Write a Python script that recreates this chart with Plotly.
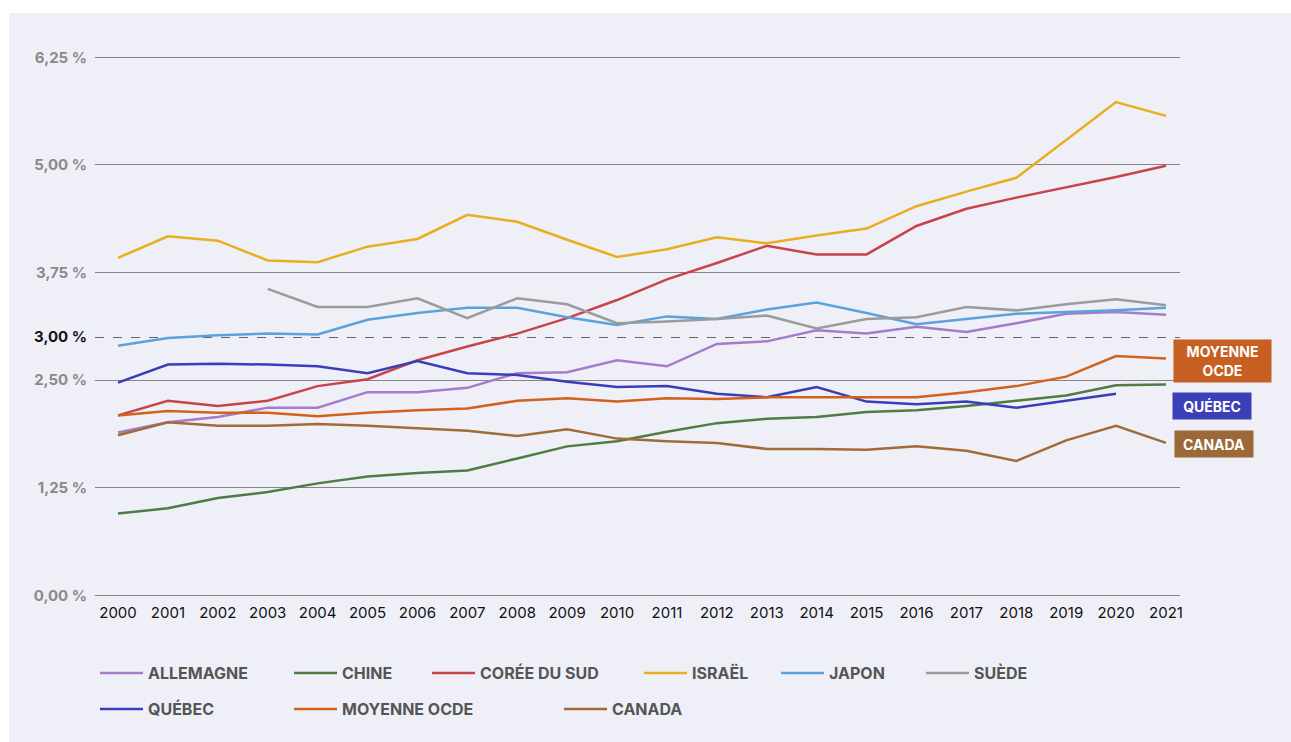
import plotly.graph_objects as go

years = list(range(2000, 2022))
year_labels = [str(y) for y in years]

allemagne = [1.89, 2.01, 2.07, 2.18, 2.18, 2.36, 2.36, 2.41, 2.58, 2.59, 2.73, 2.66, 2.92, 2.95, 3.08, 3.04, 3.12, 3.06, 3.16, 3.27, 3.29, 3.26]
chine = [0.95, 1.01, 1.13, 1.20, 1.30, 1.38, 1.42, 1.45, 1.59, 1.73, 1.79, 1.90, 2.00, 2.05, 2.07, 2.13, 2.15, 2.20, 2.26, 2.32, 2.44, 2.45]
coree = [2.09, 2.26, 2.20, 2.26, 2.43, 2.51, 2.73, 2.89, 3.04, 3.22, 3.43, 3.67, 3.86, 4.06, 3.96, 3.96, 4.29, 4.49, 4.62, 4.74, 4.86, 4.99]
israel = [3.92, 4.17, 4.12, 3.89, 3.87, 4.05, 4.14, 4.42, 4.34, 4.13, 3.93, 4.02, 4.16, 4.09, 4.18, 4.26, 4.52, 4.69, 4.85, 5.29, 5.73, 5.57]
japon = [2.90, 2.99, 3.02, 3.04, 3.03, 3.20, 3.28, 3.34, 3.34, 3.23, 3.14, 3.24, 3.21, 3.32, 3.40, 3.28, 3.15, 3.21, 3.27, 3.29, 3.31, 3.34]
suede = [None, None, None, 3.56, 3.35, 3.35, 3.45, 3.22, 3.45, 3.38, 3.16, 3.18, 3.21, 3.25, 3.10, 3.21, 3.23, 3.35, 3.31, 3.38, 3.44, 3.37]
quebec = [2.47, 2.68, 2.69, 2.68, 2.66, 2.58, 2.72, 2.58, 2.56, 2.48, 2.42, 2.43, 2.34, 2.30, 2.42, 2.25, 2.22, 2.25, 2.18, 2.26, 2.34, None]
ocde = [2.09, 2.14, 2.12, 2.12, 2.08, 2.12, 2.15, 2.17, 2.26, 2.29, 2.25, 2.29, 2.28, 2.30, 2.30, 2.30, 2.30, 2.36, 2.43, 2.54, 2.78, 2.75]
canada = [1.86, 2.01, 1.97, 1.97, 1.99, 1.97, 1.94, 1.91, 1.85, 1.93, 1.82, 1.79, 1.77, 1.70, 1.70, 1.69, 1.73, 1.68, 1.56, 1.80, 1.97, 1.77]

y_ticks = [0, 1.25, 2.5, 3.75, 5, 6.25]
y_tick_labels = ["0,00 %", "1,25 %", "2,50 %", "3,75 %", "5,00 %", "6,25 %"]
ref_tick = [3.0]
ref_tick_label = ["3,00 %"]

series = [
    ("ALLEMAGNE", allemagne, "#A57CC9"),
    ("CHINE", chine, "#4F7B45"),
    ("CORÉE DU SUD", coree, "#C8434A"),
    ("ISRAËL", israel, "#E9AE1D"),
    ("JAPON", japon, "#5AA2DE"),
    ("SUÈDE", suede, "#9B9B9B"),
    ("QUÉBEC", quebec, "#3A3DB9"),
    ("MOYENNE OCDE", ocde, "#D3611E"),
    ("CANADA", canada, "#A06B3A"),
]

W, H = 1291, 742
OFFX, OFFY = 9, 13
FONT = "Inter"
BG = "#EFF0F7"

# legend slot positions (page px of symbol start, row center)
legend_pos = [(100, 673), (294, 673), (432, 673), (644, 673), (781, 673), (926, 673),
              (100, 709), (294, 709), (564, 709)]

fig = go.Figure()
layout_legends = {}
for i, (name, vals, col) in enumerate(series):
    lg = "legend" if i == 0 else f"legend{i+1}"
    fig.add_trace(go.Scatter(x=years, y=vals, name=name, mode="lines",
                             line=dict(color=col, width=2.5), legend=lg,
                             connectgaps=False))
    px, py = legend_pos[i]
    layout_legends[lg] = dict(
        x=(px - OFFX - 5) / W, y=1 - (py - OFFY) / H, xref="container", yref="container",
        xanchor="left", yanchor="middle", orientation="h",
        bgcolor="rgba(0,0,0,0)", borderwidth=0,
        font=dict(family=FONT, size=16, color="#555555", weight=700),
        itemwidth=43,
    )

# invisible trace to carry the dashed 3 % reference axis
fig.add_trace(go.Scatter(x=[years[0]], y=[ref_tick[0]], yaxis="y2", mode="lines",
                         showlegend=False, hoverinfo="skip", line=dict(width=0)))

left, right = 95 - OFFX, 1180 - OFFX
top, bottom = 52.7 - OFFY, 596.7 - OFFY

fig.update_layout(
    width=W, height=H,
    paper_bgcolor=BG, plot_bgcolor=BG,
    margin=dict(l=left, r=W - right, t=top, b=H - bottom, autoexpand=False),
    xaxis=dict(range=[1999.539, 2021.281], tickvals=years, ticktext=year_labels,
               showgrid=False, zeroline=False, showline=False,
               ticks="outside", ticklen=2, tickcolor="rgba(0,0,0,0)",
               tickfont=dict(family=FONT, size=15, color="#111111")),
    yaxis=dict(range=[-0.02, 6.3], tickvals=y_ticks, ticktext=y_tick_labels,
               showgrid=True, gridcolor="#858585", gridwidth=1, zeroline=False,
               ticks="outside", ticklen=4, tickcolor="rgba(0,0,0,0)",
               tickfont=dict(family=FONT, size=15, color="#8A8A8A", weight=700)),
    yaxis2=dict(range=[-0.02, 6.3], overlaying="y", side="left", tickvals=ref_tick,
                ticktext=ref_tick_label, showgrid=True, gridcolor="#666666",
                griddash="dash", gridwidth=1, zeroline=False,
                ticks="outside", ticklen=4, tickcolor="rgba(0,0,0,0)",
                tickfont=dict(family=FONT, size=15, color="#111111", weight=700)),
    showlegend=True,
    **layout_legends,
)

boxes = [
    ("MOYENNE<br>OCDE", "#C65F21", 1174, 1271, 340, 382),
    ("QUÉBEC", "#3C40B8", 1173, 1251, 393, 419),
    ("CANADA", "#9B6937", 1175, 1253, 431, 457),
]
for txt, col, x0, x1, y0, y1 in boxes:
    fig.add_annotation(
        xref="paper", yref="paper",
        x=((x0 + x1) / 2 - OFFX - left) / (right - left),
        y=1 - ((y0 + y1) / 2 - OFFY - top) / (bottom - top),
        xanchor="center", yanchor="middle", showarrow=False,
        text=txt, bgcolor=col, width=x1 - x0, height=y1 - y0, borderpad=0,
        font=dict(family=FONT, size=14, color="white", weight=700),
    )

fig.write_html(
    "out.html",
    post_script=("document.body.style.margin='13px 0 0 9px';"
                 "document.body.style.overflow='hidden';"
                 "document.documentElement.style.overflow='hidden';"),
)
